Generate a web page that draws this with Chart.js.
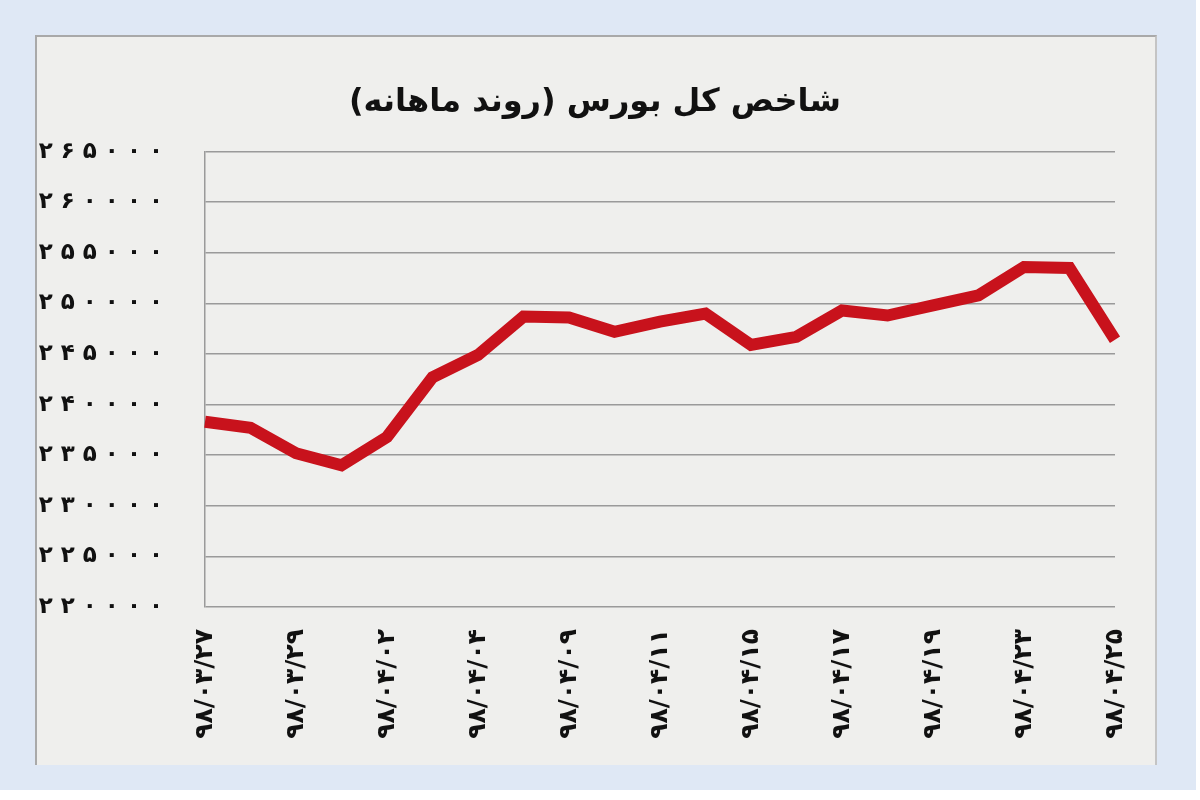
<!DOCTYPE html>
<html><head><meta charset="utf-8">
<script src="https://cdn.jsdelivr.net/npm/chart.js@4.4.0/dist/chart.umd.min.js"></script>
<style>
html,body{margin:0;padding:0;background:#fff;}
#outer{position:absolute;left:0;top:0;width:1196px;height:790px;background:#dfe8f5;}
#panel{position:absolute;left:35px;top:35px;width:1118px;height:728px;background:#efefed;border-top:2px solid #a9a9a9;border-left:2px solid #a9a9a9;border-right:2px solid #c4c4c4;}
canvas{position:absolute;left:0;top:0;}
</style></head>
<body>
<div id="outer"></div><div id="panel"></div>
<canvas id="c" width="1200" height="800"></canvas>
<script>
const chartTitle = 'شاخص کل بورس (روند ماهانه)';
const dateLabels = [
  '۹۸/۰۳/۲۷', '', '۹۸/۰۳/۲۹', '', '۹۸/۰۴/۰۲', '', '۹۸/۰۴/۰۴', '',
  '۹۸/۰۴/۰۹', '', '۹۸/۰۴/۱۱', '', '۹۸/۰۴/۱۵', '', '۹۸/۰۴/۱۷', '',
  '۹۸/۰۴/۱۹', '', '۹۸/۰۴/۲۳', '', '۹۸/۰۴/۲۵'
];
const indexValues = [
  238300, 237700, 235200, 234000, 236800, 242700, 244900, 248700,
  248600, 247200, 248200, 249000, 245900, 246700, 249300, 248800,
  249800, 250800, 253600, 253500, 246400
];
const yMin = 220000;
const yMax = 265000;
const yStep = 5000;
const persianDigits = ['۰','۱','۲','۳','۴','۵','۶','۷','۸','۹'];

function toPersianSpaced(v){
  return String(v).split('').map(d => persianDigits[+d]).join(' ');
}

const FONT = "'DejaVu Sans', 'Noto Sans', sans-serif";

const titlePlugin = {
  id: 'rtlTitle',
  afterDraw(chart) {
    const ctx = chart.ctx;
    ctx.save();
    ctx.font = "bold 32px " + FONT;
    ctx.fillStyle = '#111';
    ctx.textAlign = 'center';
    ctx.textBaseline = 'middle';
    ctx.fillText(chartTitle + '\u200F', 595, 103);
    ctx.restore();
  }
};

new Chart(document.getElementById('c'), {
  type: 'line',
  data: {
    labels: dateLabels,
    datasets: [{
      data: indexValues,
      borderColor: '#c8121c',
      borderWidth: 12,
      pointRadius: 0,
      tension: 0,
      borderJoinStyle: 'miter',
      fill: false
    }]
  },
  plugins: [titlePlugin],
  options: {
    responsive: false,
    devicePixelRatio: 1,
    animation: false,
    layout: { padding: { top: 151.6, right: 85, bottom: 0, left: 0 } },
    plugins: {
      legend: { display: false },
      tooltip: { enabled: false },
      title: { display: false }
    },
    scales: {
      x: {
        grid: { display: false, drawTicks: false },
        border: { display: false },
        afterFit: s => { s.height = 193; },
        ticks: {
          autoSkip: false,
          minRotation: 90,
          maxRotation: 90,
          padding: 22,
          color: '#111',
          font: { family: FONT, size: 25, weight: 'bold' }
        }
      },
      y: {
        min: yMin,
        max: yMax,
        afterFit: s => { s.width = 205; },
        grid: { color: '#9a9a9a', lineWidth: 1.5, drawTicks: false },
        border: { display: true, color: '#9a9a9a', width: 1.5 },
        ticks: {
          stepSize: yStep,
          padding: 42,
          color: '#111',
          font: { family: FONT, size: 23, weight: 'bold' },
          callback: v => toPersianSpaced(v)
        }
      }
    }
  }
});
</script>
</body></html>
